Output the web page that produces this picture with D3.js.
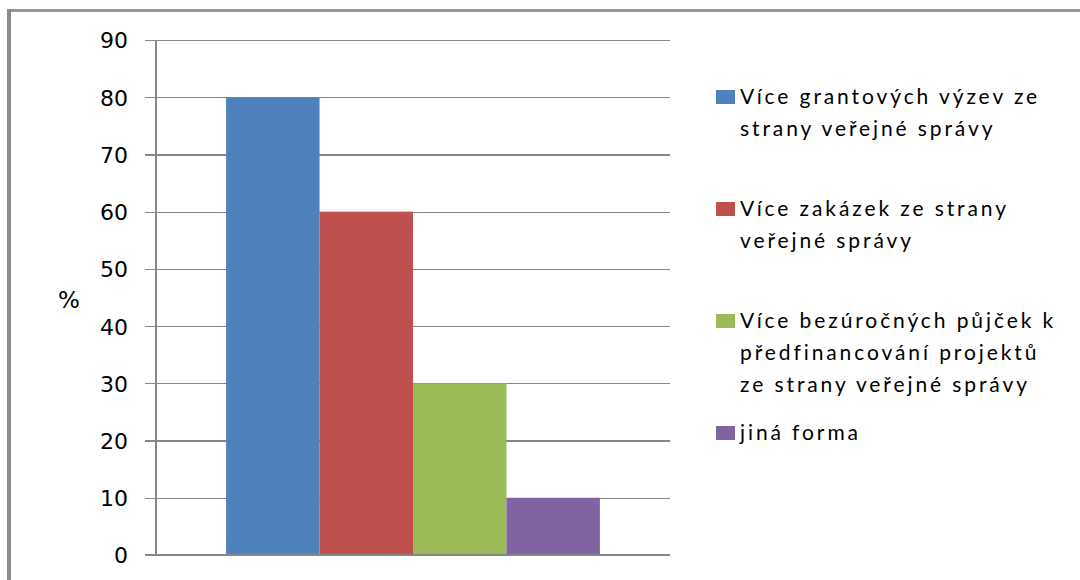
<!DOCTYPE html>
<html>
<head>
<meta charset="utf-8">
<script src="https://cdn.jsdelivr.net/npm/d3@7"></script>
<style>
  html, body { margin: 0; padding: 0; background: #fff; }
  svg { display: block; }
</style>
</head>
<body>
<svg id="chart" width="1080" height="580"></svg>
<script>
// ---- data ----
const categories = ["Forma podpory"];
const seriesNames = [
  "Více grantových výzev ze strany veřejné správy",
  "Více zakázek ze strany veřejné správy",
  "Více bezúročných půjček k předfinancování projektů ze strany veřejné správy",
  "jiná forma"
];
const legendLines = [
  ["Více grantových výzev ze", "strany veřejné správy"],
  ["Více zakázek ze strany", "veřejné správy"],
  ["Více bezúročných půjček k", "předfinancování projektů", "ze strany veřejné správy"],
  ["jiná forma"]
];
const values = [80, 60, 30, 10];
const seriesColors = ["#4F81BD", "#C0504D", "#9BBB59", "#8064A2"];
const yTicks = [0, 10, 20, 30, 40, 50, 60, 70, 80, 90];
const yAxisTitle = "%";

// ---- layout ----
const svg = d3.select("#chart");
const plot = { left: 156, right: 670, top: 40, bottom: 555 };

// frame (outer chart border: top and left visible)
svg.append("rect").attr("x", 7).attr("y", 9).attr("width", 1080).attr("height", 3).attr("fill", "#979797");
svg.append("rect").attr("x", 7).attr("y", 9).attr("width", 4).attr("height", 580).attr("fill", "#8a8a8a");

const y = d3.scaleLinear().domain([0, 90]).range([plot.bottom, plot.top]);
const x0 = d3.scaleBand().domain(categories).range([plot.left, plot.right])
  .paddingInner(0).paddingOuter(0.1875);
const x1 = d3.scaleBand().domain(seriesNames).range([0, x0.bandwidth()]).padding(0);

// gridlines + ticks via axis
const yAxis = d3.axisLeft(y).tickValues(yTicks)
  .tickSize(-(plot.right - plot.left)).tickSizeOuter(0).tickPadding(0).tickFormat("");
const gGrid = svg.append("g").attr("transform", `translate(${plot.left},0)`).call(yAxis);
gGrid.select(".domain").remove();
gGrid.selectAll(".tick line").attr("stroke", "#878787").attr("stroke-width", 1.2)
  .attr("x1", -11).attr("shape-rendering", "crispEdges");

// vertical axis line
svg.append("line").attr("x1", plot.left).attr("x2", plot.left)
  .attr("y1", y(90)).attr("y2", y(0)).attr("stroke", "#878787").attr("stroke-width", 1.2)
  .attr("shape-rendering", "crispEdges");

// tick labels
const labAxis = d3.axisLeft(y).tickValues(yTicks).tickSize(0).tickPadding(plot.left - 128).tickFormat(d3.format("d"));
const gLab = svg.append("g").attr("transform", `translate(${plot.left},0)`).call(labAxis);
gLab.select(".domain").remove();
gLab.selectAll("text").attr("font-family", "DejaVu Sans, Verdana, sans-serif")
  .attr("font-size", 22).attr("fill", "#000").attr("dy", "0.36em");

// axis title
svg.append("text").attr("x", 69).attr("y", 300).attr("dy", "0.36em")
  .attr("text-anchor", "middle").attr("font-family", "DejaVu Sans, Verdana, sans-serif")
  .attr("font-size", 23).attr("fill", "#000").text(yAxisTitle);

// bars
const barG = svg.append("g").attr("transform", `translate(${x0(categories[0])},0)`);
barG.selectAll("rect").data(values).join("rect")
  .attr("x", (d, i) => x1(seriesNames[i]))
  .attr("width", x1.bandwidth())
  .attr("y", d => y(d))
  .attr("height", d => y(0) - y(d))
  .attr("fill", (d, i) => seriesColors[i]);

// redraw baseline on top
svg.append("line").attr("x1", plot.left - 11).attr("x2", plot.right)
  .attr("y1", y(0)).attr("y2", y(0)).attr("stroke", "#878787").attr("stroke-width", 1.2)
  .attr("shape-rendering", "crispEdges");

// legend
const legY = d3.scalePoint().domain(seriesNames).range([97, 433]);
const lineH = 32;
const leg = svg.append("g");
seriesNames.forEach((name, i) => {
  const g = leg.append("g").attr("transform", `translate(716,${legY(name)})`);
  g.append("rect").attr("x", 0).attr("y", -7).attr("width", 19).attr("height", 14)
    .attr("fill", seriesColors[i]);
  const t = g.append("text").attr("x", 24).attr("y", 0)
    .attr("font-family", "Lato, 'Open Sans', sans-serif").attr("font-size", 21)
    .attr("letter-spacing", "2.9px")
    .attr("fill", "#000");
  legendLines[i].forEach((ln, j) => {
    t.append("tspan").attr("x", 24).attr("y", j * lineH).attr("dy", "0.35em").text(ln);
  });
});
</script>
</body>
</html>
